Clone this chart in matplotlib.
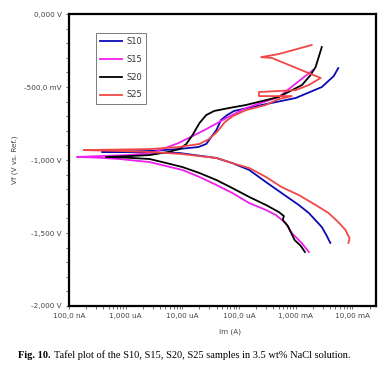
import matplotlib
matplotlib.use("Agg")
import matplotlib.pyplot as plt
from matplotlib.ticker import FixedLocator, FixedFormatter, LogLocator, MultipleLocator, NullFormatter

# Datos: corriente (A) y potencial (V), barrido catodico -> anodico
s10_i = [4.07e-3, 3.47e-3, 2.88e-3, 1.70e-3, 1.13e-3, 5.62e-4, 2.98e-4, 1.51e-4, 7.59e-5, 3.98e-5,
         8.91e-6, 2.63e-6, 7.76e-7, 3.80e-7,
         7.76e-7, 2.63e-6, 8.51e-6, 1.91e-5, 2.63e-5, 3.24e-5, 3.98e-5, 4.79e-5, 6.17e-5, 8.13e-5, 2.51e-4,
         1.00e-3, 2.88e-3, 4.68e-3, 5.62e-3]
s10_e = [-1.568, -1.514, -1.459, -1.363, -1.308, -1.226, -1.151, -1.068, -1.021, -0.986,
         -0.952, -0.949, -0.945, -0.945,
         -0.942, -0.938, -0.925, -0.911, -0.890, -0.842, -0.795, -0.726, -0.692, -0.664, -0.623,
         -0.575, -0.500, -0.425, -0.370]

s15_i = [1.70e-3, 1.27e-3, 8.51e-4, 6.68e-4, 4.47e-4, 2.98e-4, 1.51e-4, 7.59e-5, 3.98e-5, 2.00e-5,
         1.00e-5, 2.63e-6, 7.76e-7, 2.88e-7, 1.38e-7,
         3.47e-7, 1.17e-6, 2.88e-6, 8.51e-6, 2.45e-5, 6.46e-5, 1.32e-4, 5.01e-4, 2.00e-3]
s15_e = [-1.630, -1.568, -1.500, -1.432, -1.377, -1.342, -1.295, -1.226, -1.171, -1.116,
         -1.068, -1.014, -0.993, -0.983, -0.979,
         -0.973, -0.966, -0.952, -0.884, -0.795, -0.705, -0.644, -0.568, -0.384]

s20_i = [1.45e-3, 1.23e-3, 9.55e-4, 8.13e-4, 7.24e-4, 5.89e-4, 6.17e-4, 5.01e-4, 2.98e-4, 1.51e-4,
         7.59e-5, 3.98e-5, 2.00e-5, 1.00e-5, 5.25e-6, 2.63e-6, 9.55e-7, 4.47e-7,
         1.17e-6, 2.63e-6, 5.62e-6, 8.91e-6, 1.17e-5, 1.51e-5, 2.00e-5, 2.63e-5, 3.63e-5, 6.61e-5,
         1.32e-4, 5.01e-4, 1.29e-3, 1.82e-3, 2.24e-3, 2.88e-3]
s20_e = [-1.630, -1.589, -1.548, -1.493, -1.452, -1.411, -1.384, -1.356, -1.308, -1.253,
         -1.192, -1.137, -1.089, -1.048, -1.021, -0.993, -0.983, -0.979,
         -0.973, -0.966, -0.945, -0.925, -0.890, -0.829, -0.747, -0.692, -0.664, -0.644,
         -0.623, -0.568, -0.486, -0.418, -0.363, -0.226]

s25_i = [8.51e-3, 8.91e-3, 8.13e-3, 7.54e-3, 5.62e-3, 3.79e-3, 2.24e-3, 1.13e-3, 5.62e-4, 2.98e-4,
         1.51e-4, 7.59e-5, 3.98e-5, 2.00e-5, 1.00e-5, 5.25e-6, 2.63e-6, 7.76e-7, 1.82e-7,
         7.76e-7, 2.63e-6, 8.51e-6, 2.00e-5, 2.95e-5, 4.07e-5, 5.62e-5, 7.76e-5, 1.32e-4, 2.95e-4,
         5.01e-4, 8.51e-4, 2.24e-4, 2.24e-4, 1.00e-3, 1.70e-3, 2.75e-3, 3.80e-4, 2.45e-4, 5.01e-4, 1.91e-3]
s25_e = [-1.568, -1.534, -1.507, -1.479, -1.425, -1.363, -1.308, -1.240, -1.185, -1.116,
         -1.055, -1.021, -0.986, -0.973, -0.959, -0.952, -0.945, -0.938, -0.932,
         -0.928, -0.925, -0.911, -0.890, -0.856, -0.808, -0.740, -0.699, -0.658, -0.623,
         -0.582, -0.562, -0.562, -0.534, -0.521, -0.486, -0.438, -0.301, -0.295, -0.274, -0.212]

series = ["S10", "S15", "S20", "S25"]
colores = ["#0a0ab4", "#f01ef0", "#000000", "#f04848"]

x_ticks = [1e-7, 1e-6, 1e-5, 1e-4, 1e-3, 1e-2]
x_etiquetas = ["100,0 nA", "1,000 uA", "10,00 uA", "100,0 uA", "1,000 mA", "10,00 mA"]
y_ticks = [0.0, -0.5, -1.0, -1.5, -2.0]
y_etiquetas = ["0,000 V", "-500,0 mV", "-1,000 V", "-1,500 V", "-2,000 V"]

fig = plt.figure(figsize=(3.9, 3.7), dpi=100)
ax = fig.add_axes([0.177, 0.173, 0.787, 0.789])

datos = [(s10_i, s10_e), (s15_i, s15_e), (s20_i, s20_e), (s25_i, s25_e)]
for (i, e), nombre, c in zip(datos, series, colores):
    ax.plot(i, e, color=c, lw=1.3, label=nombre, solid_joinstyle="round")

ax.set_xscale("log")
ax.set_xlim(1e-7, 2.6e-2)
ax.set_ylim(-2.0, 0.0)

ax.xaxis.set_major_locator(FixedLocator(x_ticks))
ax.xaxis.set_major_formatter(FixedFormatter(x_etiquetas))
ax.xaxis.set_minor_locator(LogLocator(base=10, subs=range(2, 10)))
ax.xaxis.set_minor_formatter(NullFormatter())
ax.yaxis.set_major_locator(FixedLocator(y_ticks))
ax.yaxis.set_major_formatter(FixedFormatter(y_etiquetas))
ax.yaxis.set_minor_locator(MultipleLocator(0.1))

ax.tick_params(which="both", direction="out", length=2.5, width=0.6, color="#555555",
               labelsize=5.2, labelcolor="#444444", pad=2.5)
for s in ax.spines.values():
    s.set_linewidth(1.6)
    s.set_color("black")

leg = ax.legend(loc="upper left", bbox_to_anchor=(0.088, 0.935), borderaxespad=0,
                fontsize=6, labelspacing=1.05, handlelength=2.6, handletextpad=0.5,
                fancybox=False, edgecolor="#666666", framealpha=1, borderpad=0.5)
leg.get_frame().set_linewidth(0.6)
for t in leg.get_texts():
    t.set_color("#333333")

fig.text(15 / 390, 1 - 160 / 370, "Vf (V vs. Ref.)", rotation=90, fontsize=5.2,
         color="#444444", ha="center", va="center")
fig.text(230 / 390, 1 - 332 / 370, "Im (A)", fontsize=5.2, color="#444444",
         ha="center", va="center")

# Pie de figura
t1 = fig.text(18 / 390, 1 - 355 / 370, "Fig. 10.", fontsize=7.5, fontweight="bold",
              family="Liberation Serif", va="center")
fig.canvas.draw()
bb = t1.get_window_extent()
x0 = fig.transFigure.inverted().transform((bb.x1 + 3, 0))[0]
fig.text(x0, 1 - 355 / 370, "Tafel plot of the S10, S15, S20, S25 samples in 3.5 wt% NaCl solution.",
         fontsize=7.5, family="Liberation Serif", va="center")

fig.savefig("out.png", dpi=100)
